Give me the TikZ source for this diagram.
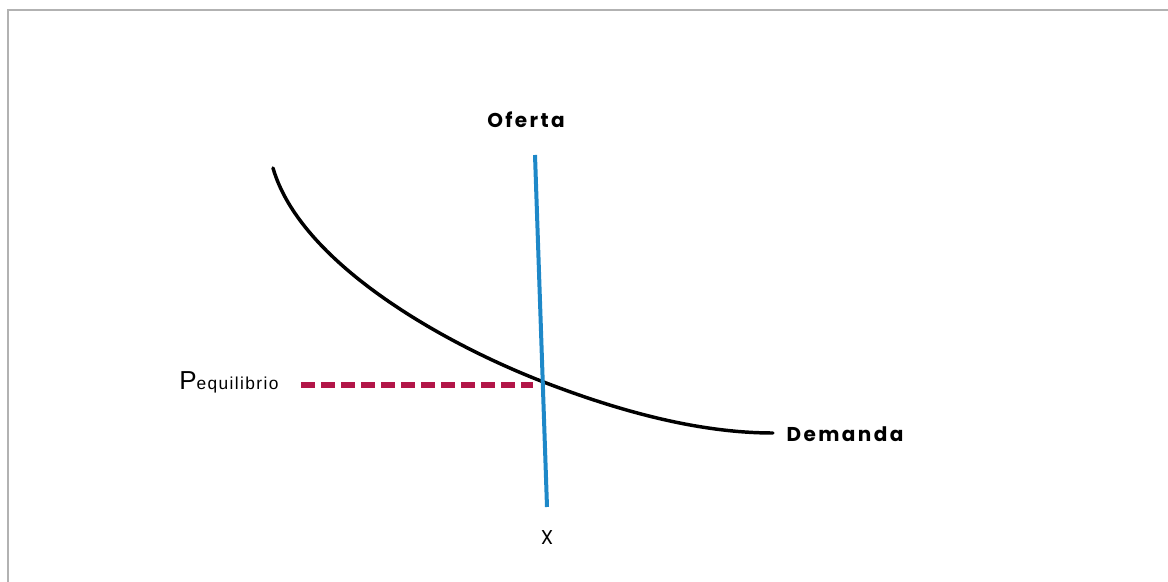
\documentclass[tikz,border=0pt]{standalone}
\usepackage{fontspec}
\newfontfamily\labelfont[LetterSpace=12]{Poppins}
\newfontfamily\arialfont{Liberation Sans}
\newfontfamily\subfont[LetterSpace=8]{Liberation Sans}
\definecolor{ofertablue}{RGB}{30,136,200}
\definecolor{eqred}{RGB}{178,22,72}

\begin{document}
\begin{tikzpicture}[x=0.75pt,y=0.75pt]
\useasboundingbox (0,0) rectangle (1168,582);
\draw[black!30, line width=0.8pt] (8,0) -- (8,572) -- (1168,572);
% labels
\node[font=\labelfont\bfseries\fontsize{15}{15}\selectfont] (oferta) at (526,462) {Oferta};
\node[font=\labelfont\bfseries\fontsize{15}{15}\selectfont, anchor=west] (demanda) at (782,148) {Demanda};
\node[font=\labelfont\fontsize{15}{15}\selectfont] (xq) at (547,44) {X};
\node[font=\arialfont, anchor=base west, inner sep=0pt] (peq) at (179,192)
  {{\fontsize{19.5}{19.5}\selectfont P}{\subfont\fontsize{13}{13}\selectfont equilibrio}};
% curves
\coordinate (ofTop) at (535,427);
\coordinate (ofBot) at (547,75);
\coordinate (eq) at (541,201);
\coordinate (dashL) at (301,197);
\coordinate (dashR) at (533,197);
\draw[black, line width=2.6pt, line cap=round] (273,414) .. controls (300,320) and (441,240) .. (eq)
  .. controls (621,170) and (700,149) .. (773,149);
\draw[ofertablue, line width=3pt] (ofTop) -- (ofBot);
\draw[eqred, line width=4pt, dash pattern=on 10.5pt off 4.5pt] (dashL) -- (dashR);
\end{tikzpicture}
\end{document}
